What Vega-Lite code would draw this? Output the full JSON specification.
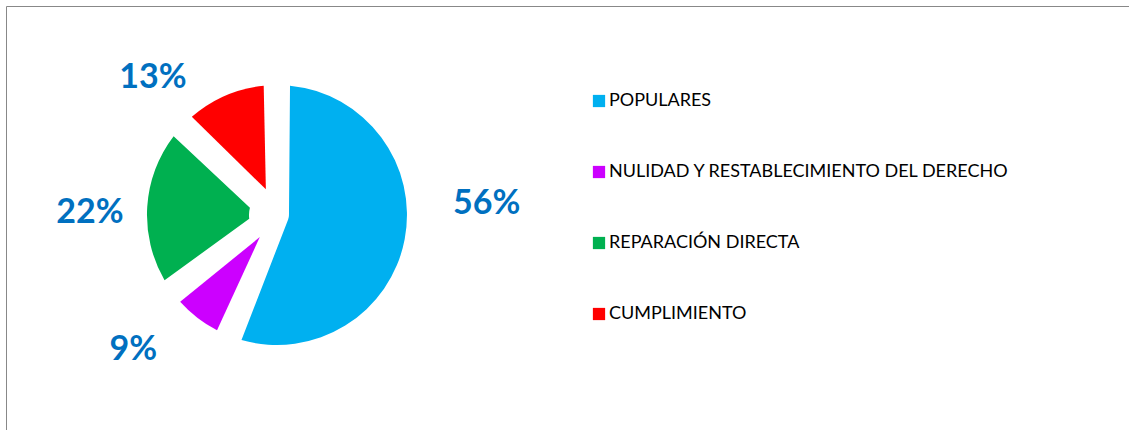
{
  "$schema": "https://vega.github.io/schema/vega-lite/v6.json",
  "width": 1123,
  "height": 424,
  "autosize": {"type": "none"},
  "padding": {"left": 6, "top": 6, "right": 0, "bottom": 0},
  "background": "white",
  "config": {"view": {"stroke": "#888888", "strokeWidth": 1}},
  "data": {
    "values": [
      {"cat": "POPULARES", "value": 56, "label": "56%", "order": 1},
      {"cat": "NULIDAD Y RESTABLECIMIENTO DEL DERECHO", "value": 9, "label": "9%", "order": 2},
      {"cat": "REPARACIÓN DIRECTA", "value": 22, "label": "22%", "order": 3},
      {"cat": "CUMPLIMIENTO", "value": 13, "label": "13%", "order": 4}
    ]
  },
  "encoding": {
    "theta": {"field": "value", "type": "quantitative", "stack": true},
    "order": {"field": "order", "type": "quantitative"},
    "x": {"datum": 0.2413, "type": "quantitative", "scale": {"domain": [0, 1], "nice": false, "zero": false}, "axis": null},
    "y": {"datum": 0.5071, "type": "quantitative", "scale": {"domain": [0, 1], "nice": false, "zero": false}, "axis": null}
  },
  "layer": [
    {
      "mark": {"type": "arc", "innerRadius": 28, "outerRadius": 130, "padAngle": 0.2},
      "encoding": {
        "opacity": {"condition": {"test": "datum.cat === 'POPULARES'", "value": 0}, "value": 1},
        "color": {
          "field": "cat",
          "type": "nominal",
          "scale": {
            "domain": ["POPULARES", "NULIDAD Y RESTABLECIMIENTO DEL DERECHO", "REPARACIÓN DIRECTA", "CUMPLIMIENTO"],
            "range": ["#00B0F0", "#CC00FF", "#00B050", "#FF0000"]
          },
          "legend": {
            "title": null,
            "orient": "none",
            "legendX": 584,
            "legendY": 86,
            "symbolType": "square",
            "symbolSize": 150,
            "symbolStrokeWidth": 0,
            "symbolOpacity": 1,
            "labelFont": "Lato",
            "labelFontSize": 18,
            "labelColor": "#000000",
            "rowPadding": 53,
            "labelOffset": 1,
            "padding": 0,
            "labelLimit": 1000
          }
        }
      }
    },
    {
      "mark": {"type": "arc", "innerRadius": 12, "outerRadius": 130, "padAngle": 0.2},
      "encoding": {
        "opacity": {"condition": {"test": "datum.cat === 'POPULARES'", "value": 1}, "value": 0},
        "color": {"field": "cat", "type": "nominal"}
      }
    },
    {
      "mark": {"type": "text", "radius": 185, "thetaOffset": -0.326, "font": "Lato", "fontWeight": "bold", "fontSize": 34, "color": "#0070C0", "align": "center", "baseline": "middle"},
      "encoding": {"text": {"condition": {"test": "datum.cat === 'CUMPLIMIENTO'", "field": "label", "type": "nominal"}, "value": ""}}
    },
    {
      "mark": {"type": "text", "radius": 210, "thetaOffset": -0.241, "font": "Lato", "fontWeight": "bold", "fontSize": 34, "color": "#0070C0", "align": "center", "baseline": "middle"},
      "encoding": {"text": {"condition": {"test": "datum.cat === 'POPULARES'", "field": "label", "type": "nominal"}, "value": ""}}
    },
    {
      "mark": {"type": "text", "radius": 187, "thetaOffset": -0.052, "font": "Lato", "fontWeight": "bold", "fontSize": 34, "color": "#0070C0", "align": "center", "baseline": "middle"},
      "encoding": {"text": {"condition": {"test": "datum.cat === 'REPARACIÓN DIRECTA'", "field": "label", "type": "nominal"}, "value": ""}}
    },
    {
      "mark": {"type": "text", "radius": 197, "thetaOffset": 0.157, "font": "Lato", "fontWeight": "bold", "fontSize": 34, "color": "#0070C0", "align": "center", "baseline": "middle"},
      "encoding": {"text": {"condition": {"test": "datum.cat === 'NULIDAD Y RESTABLECIMIENTO DEL DERECHO'", "field": "label", "type": "nominal"}, "value": ""}}
    }
  ]
}
